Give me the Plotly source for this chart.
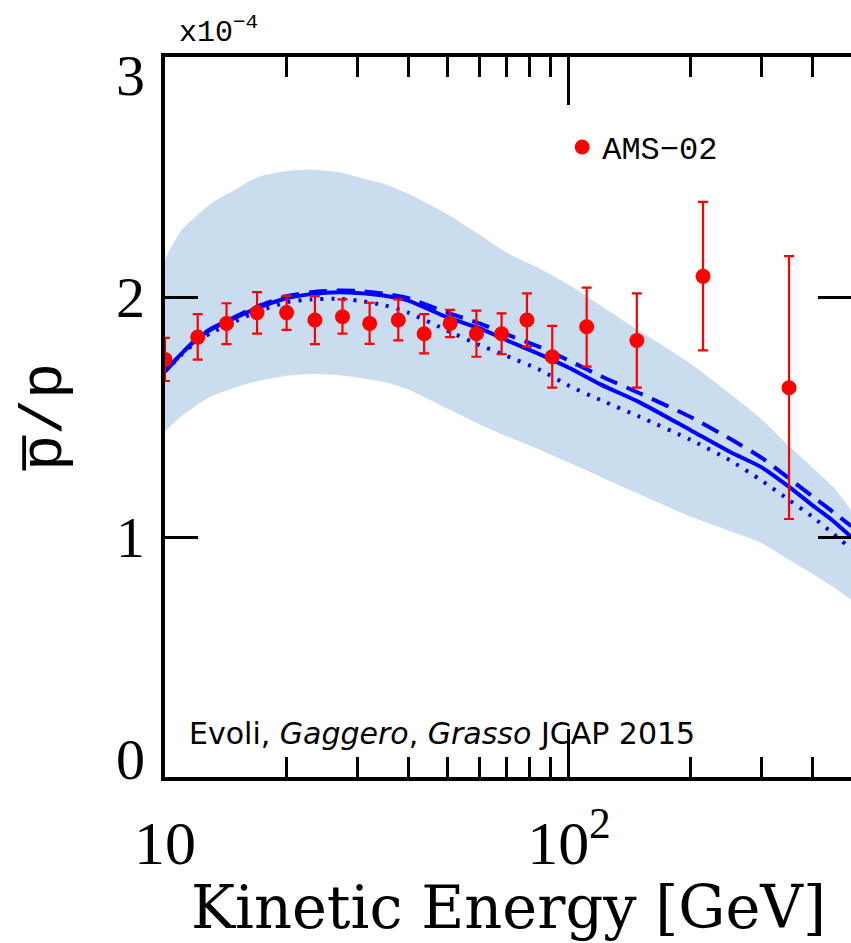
import math
import plotly.graph_objects as go

# ---------------- data ----------------
energy_ams = [10.0, 12.05, 14.2, 16.9, 20.0, 23.5, 27.5, 32.1, 37.8, 43.8, 50.8,
              59.0, 68.1, 78.7, 90.9, 110.6, 147.2, 214.7, 350.5]
ratio_ams = [1.74, 1.833, 1.890, 1.935, 1.935, 1.904, 1.918, 1.890, 1.904, 1.847, 1.890,
             1.847, 1.847, 1.904, 1.751, 1.876, 1.819, 2.086, 1.622]
err_plus = [0.09, 0.096, 0.084, 0.085, 0.070, 0.100, 0.072, 0.086, 0.086, 0.082, 0.056,
            0.096, 0.085, 0.111, 0.129, 0.163, 0.196, 0.310, 0.548]
err_minus = [0.09, 0.094, 0.086, 0.088, 0.072, 0.100, 0.071, 0.085, 0.085, 0.082, 0.057,
             0.096, 0.085, 0.111, 0.129, 0.166, 0.197, 0.308, 0.547]

energy_model = [10, 11, 12, 13, 15, 17, 20, 23, 27, 30, 35, 40, 50, 60, 70, 85, 100,
                120, 150, 200, 250, 300, 350, 400, 450, 500]
band_high = [2.16, 2.28, 2.34, 2.39, 2.45, 2.50, 2.525, 2.53, 2.52, 2.50, 2.47, 2.43, 2.345,
             2.26, 2.185, 2.117, 2.05, 1.964, 1.857, 1.722, 1.598, 1.49, 1.38, 1.29, 1.21, 1.11]
band_low = [1.44, 1.505, 1.55, 1.585, 1.625, 1.65, 1.672, 1.679, 1.674, 1.665, 1.645, 1.615,
            1.535, 1.47, 1.42, 1.363, 1.31, 1.25, 1.177, 1.085, 1.025, 0.975, 0.906, 0.847,
            0.793, 0.7375]
model_solid = [1.69, 1.765, 1.825, 1.865, 1.915, 1.955, 1.995, 2.012, 2.02, 2.017, 2.005, 1.985,
               1.915, 1.87, 1.82, 1.76, 1.705, 1.635, 1.56, 1.445, 1.355, 1.29, 1.21, 1.133,
               1.068, 1.0]
model_dashed = [1.69, 1.765, 1.827, 1.868, 1.92, 1.962, 2.003, 2.02, 2.027, 2.025, 2.013, 1.995,
                1.935, 1.89, 1.845, 1.79, 1.735, 1.67, 1.598, 1.50, 1.41, 1.33, 1.245, 1.17,
                1.105, 1.045]
model_dotted = [1.69, 1.76, 1.815, 1.85, 1.90, 1.94, 1.978, 1.99, 1.992, 1.985, 1.965, 1.935,
                1.86, 1.80, 1.755, 1.695, 1.63, 1.57, 1.50, 1.405, 1.32, 1.235, 1.155, 1.085,
                1.015, 0.95]

x_major_ticks = [10, 100]
x_major_text = ["10", "10<sup>2</sup>"]
x_minor_ticks = [20, 30, 40, 50, 60, 70, 80, 90, 200, 300, 400]
y_ticks = [0, 1, 2, 3]
y_tick_text = ["0", "1", "2", "3"]

BLUE = "#0000ff"
RED = "#ff0000"
BAND = "rgb(201,221,238)"
MONO = "Liberation Mono"
SERIF = "Liberation Serif"

fig = go.Figure()

fig.add_trace(go.Scatter(x=energy_model, y=band_low, mode="lines",
                         line=dict(width=0, shape="spline", smoothing=0.6, color=BAND),
                         showlegend=False, hoverinfo="skip"))
fig.add_trace(go.Scatter(x=energy_model, y=band_high, mode="lines", fill="tonexty",
                         fillcolor=BAND,
                         line=dict(width=0, shape="spline", smoothing=0.6, color=BAND),
                         showlegend=False, hoverinfo="skip"))

fig.add_trace(go.Scatter(x=energy_model, y=model_dotted, mode="lines",
                         line=dict(color=BLUE, width=4, dash="3px,8px", shape="spline", smoothing=0.6),
                         showlegend=False))
fig.add_trace(go.Scatter(x=energy_model, y=model_dashed, mode="lines",
                         line=dict(color=BLUE, width=4, dash="18px,10px", shape="spline", smoothing=0.6),
                         showlegend=False))
fig.add_trace(go.Scatter(x=energy_model, y=model_solid, mode="lines",
                         line=dict(color=BLUE, width=4, shape="spline", smoothing=0.6),
                         showlegend=False))

fig.add_trace(go.Scatter(x=energy_ams, y=ratio_ams, mode="markers", name="AMS\u221202",
                         marker=dict(color=RED, size=15),
                         error_y=dict(type="data", symmetric=False, array=err_plus,
                                      arrayminus=err_minus, color=RED, thickness=2.2, width=5),
                         showlegend=True))

# y tick labels as annotations (end labels pulled inward like the original)
y_shift = {0: 18, 3: -18}
for v, t in zip(y_ticks, y_tick_text):
    fig.add_annotation(x=0, xref="paper", y=v, yref="y", text=t, showarrow=False,
                       xanchor="right", yanchor="middle", xshift=-18, yshift=y_shift.get(v, 0),
                       font=dict(family=SERIF, size=58, color="black"))

# axis titles
fig.add_annotation(x=0.5, xref="paper", y=0, yref="paper", text="Kinetic Energy [GeV]",
                   showarrow=False, xanchor="center", yanchor="middle", yshift=-130,
                   font=dict(family="DejaVu Serif", size=59, color="black"))
fig.add_annotation(x=0, xref="paper", y=0.5, yref="paper", text="p\u0305/p",
                   showarrow=False, xanchor="center", yanchor="middle", xshift=-120,
                   textangle=-90, font=dict(family=MONO, size=60, color="black"))

fig.add_annotation(x=0, xref="paper", y=1, yref="paper", text="x10<sup>\u22124</sup>",
                   showarrow=False, xanchor="left", yanchor="bottom", xshift=12, yshift=5,
                   font=dict(family=MONO, size=30, color="black"))

fig.add_annotation(x=0, xref="paper", y=0, yref="paper",
                   text="Evoli, <i>Gaggero</i>, <i>Grasso</i> JCAP 2015",
                   showarrow=False, xanchor="left", yanchor="middle", xshift=22, yshift=44,
                   font=dict(family="Comic Sans MS, DejaVu Sans", size=30, color="black"))

fig.update_layout(
    width=851, height=943,
    margin=dict(l=165, r=0, t=57, b=166, autoexpand=False),
    paper_bgcolor="white", plot_bgcolor="white",
    showlegend=True,
    legend=dict(x=0.579, y=0.913, xanchor="left", yanchor="top",
                bgcolor="rgba(0,0,0,0)", font=dict(family=MONO, size=32, color="black"),
                itemwidth=30),
    xaxis=dict(type="log", range=[1, math.log10(499)], automargin=False,
               tickvals=x_major_ticks, ticktext=x_major_text,
               ticks="inside", ticklen=48, tickwidth=3, tickcolor="black",
               showline=True, linewidth=4, linecolor="black", mirror="ticks",
               showgrid=False, zeroline=False,
               tickfont=dict(family=SERIF, size=62, color="black"),
               ticklabelstandoff=9,
               minor=dict(tickvals=x_minor_ticks, ticks="inside", ticklen=20, tickwidth=3,
                          tickcolor="black", showgrid=False)),
    yaxis=dict(range=[0, 3], tickvals=y_ticks, showticklabels=False, automargin=False,
               ticks="inside", ticklen=33, tickwidth=3, tickcolor="black",
               showline=True, linewidth=4, linecolor="black", mirror="ticks",
               showgrid=False, zeroline=False),
)

fig.write_html("out.html", config={"displayModeBar": False},
               post_script="document.body.style.margin='0';document.body.style.overflow='hidden';")
